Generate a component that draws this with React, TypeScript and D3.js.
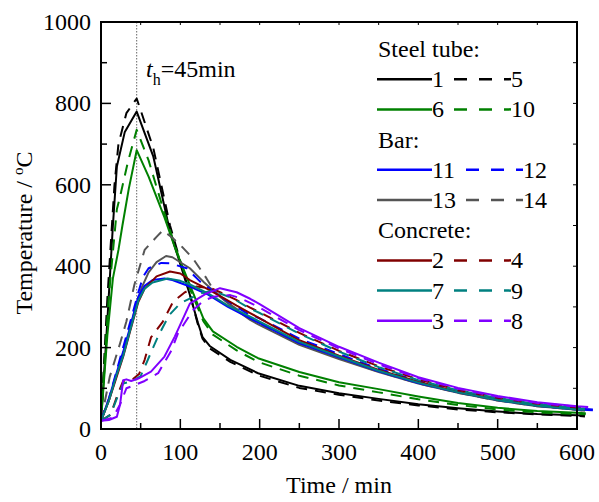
import React from "react";
import * as d3 from "d3";

type Pt = [number, number];

// ---- data: [time (min), temperature (°C)] ----
const s1: Pt[] = [[0,20],[6,200],[15,500],[20,645],[30,730],[45,780],[66,669],[87,485],[100,405],[112,330],[122,262],[128,226],[137,204],[163,170],[198,137],[250,106],[300,88],[350,74],[400,61],[450,51],[500,43],[550,37],[600,34],[610,33]];
const s5: Pt[] = [[0,20],[8,320],[17,600],[22,700],[32,776],[45,812],[66,690],[87,500],[100,412],[112,332],[122,258],[128,222],[137,198],[163,165],[198,132],[250,101],[300,84],[350,70],[400,58],[450,48],[500,41],[550,36],[600,32],[610,31]];
const s6: Pt[] = [[0,20],[8,230],[15,370],[22,440],[27,500],[35,590],[45,685],[60,620],[80,520],[95,436],[112,354],[129,272],[141,240],[171,202],[198,174],[250,140],[300,115],[350,98],[400,80],[450,64],[500,52],[550,44],[600,40],[611,39]];
const s10: Pt[] = [[0,20],[5,180],[10,330],[20,540],[24,571],[34,657],[45,735],[60,660],[80,530],[95,440],[112,345],[129,265],[141,232],[171,193],[198,165],[250,131],[300,107],[350,90],[400,73],[450,59],[500,48],[550,41],[600,37],[611,36]];
const s11: Pt[] = [[0,20],[10,75],[20,140],[28,190],[36,245],[47,325],[55,352],[65,366],[80,370],[90,366],[112,350],[135,330],[160,300],[188,272],[200,260],[250,211],[300,176],[350,142],[400,113],[450,90],[500,71],[550,57],[600,48],[620,46]];
const s12: Pt[] = [[0,20],[10,75],[20,145],[30,215],[40,285],[47,335],[53,374],[60,395],[76,408],[87,407],[108,395],[125,362],[154,321],[184,284],[200,272],[250,222],[300,184],[350,148],[400,118],[450,93],[500,74],[550,60],[600,51],[620,48]];
const s13: Pt[] = [[0,20],[10,70],[20,135],[28,185],[36,240],[42,288],[51,346],[60,385],[70,410],[82,425],[90,422],[112,395],[129,362],[150,325],[170,293],[188,268],[200,255],[250,207],[300,172],[350,140],[400,112],[450,89],[500,70],[550,56],[600,47],[610,45]];
const s14: Pt[] = [[0,20],[11,128],[24,210],[32,264],[42,354],[55,440],[70,472],[78,488],[90,470],[100,452],[116,419],[133,370],[142,341],[160,310],[188,272],[200,258],[250,209],[300,174],[350,141],[400,112],[450,89],[500,70],[550,56],[600,47],[610,45]];
const s2: Pt[] = [[0,20],[10,70],[20,130],[28,178],[36,235],[47,312],[55,345],[70,375],[87,387],[100,382],[112,366],[137,341],[171,303],[188,285],[200,272],[250,218],[300,180],[350,145],[400,116],[450,91],[500,72],[550,58],[600,49],[610,48]];
const s4: Pt[] = [[0,20],[12,35],[21,85],[28,118],[40,122],[48,135],[55,170],[63,225],[78,264],[91,313],[105,335],[120,350],[140,345],[170,318],[188,298],[200,287],[250,236],[300,192],[350,154],[400,122],[450,96],[500,77],[550,62],[600,52],[610,51]];
const s7: Pt[] = [[0,20],[10,70],[20,135],[28,180],[36,238],[47,315],[55,345],[65,360],[84,370],[100,364],[112,355],[135,333],[160,303],[188,276],[200,264],[250,214],[300,178],[350,143],[400,114],[450,90],[500,71],[550,57],[600,48],[610,47]];
const s9: Pt[] = [[0,20],[12,35],[21,80],[28,112],[40,118],[50,130],[57,161],[72,228],[86,280],[100,309],[125,333],[140,340],[165,322],[188,296],[200,285],[250,234],[300,190],[350,152],[400,120],[450,95],[500,76],[550,61],[600,51],[610,50]];
const s3: Pt[] = [[0,20],[10,22],[20,30],[24,60],[28,120],[32,122],[38,118],[47,124],[63,141],[80,178],[93,227],[112,308],[133,333],[150,346],[171,336],[188,320],[200,307],[250,248],[300,202],[350,163],[400,127],[450,101],[500,81],[550,66],[600,56],[614,54]];
const s8: Pt[] = [[0,20],[15,28],[24,60],[32,100],[40,106],[55,118],[72,137],[89,194],[97,235],[116,292],[129,315],[142,325],[163,329],[175,322],[188,310],[200,298],[250,243],[300,198],[350,159],[400,125],[450,99],[500,79],[550,64],[600,55],[614,53]];

const xTicks = [0, 100, 200, 300, 400, 500, 600];
const yTicks = [0, 200, 400, 600, 800, 1000];

const seriesList = [
  { id: "1", data: s1, color: "#000000", dashed: false },
  { id: "5", data: s5, color: "#000000", dashed: true },
  { id: "6", data: s6, color: "#008000", dashed: false },
  { id: "10", data: s10, color: "#008000", dashed: true },
  { id: "13", data: s13, color: "#555555", dashed: false },
  { id: "14", data: s14, color: "#555555", dashed: true },
  { id: "11", data: s11, color: "#0000ff", dashed: false },
  { id: "12", data: s12, color: "#0000ff", dashed: true },
  { id: "2", data: s2, color: "#800000", dashed: false },
  { id: "4", data: s4, color: "#800000", dashed: true },
  { id: "7", data: s7, color: "#008080", dashed: false },
  { id: "9", data: s9, color: "#008080", dashed: true },
  { id: "3", data: s3, color: "#8000ff", dashed: false },
  { id: "8", data: s8, color: "#8000ff", dashed: true },
];

const legendRows: (string | [string, string, string])[] = [
  "Steel tube:",
  ["1", "5", "#000000"],
  ["6", "10", "#008000"],
  "Bar:",
  ["11", "12", "#0000ff"],
  ["13", "14", "#555555"],
  "Concrete:",
  ["2", "4", "#800000"],
  ["7", "9", "#008080"],
  ["3", "8", "#8000ff"],
];

const W = 599, H = 502;
const L = 101, R = 577, T = 22, B = 429;
const FONT = "Liberation Serif, DejaVu Serif, Times New Roman, serif";

export default function App() {
  const x = d3.scaleLinear().domain([0, 600]).range([L, R]);
  const y = d3.scaleLinear().domain([0, 1000]).range([B, T]);
  const line = d3.line<Pt>().x(d => x(d[0])).y(d => y(d[1])).curve(d3.curveLinear);

  const xMinor = d3.range(0, 601, 50);
  const yMinor = d3.range(0, 1001, 100);
  const th = x(45);

  const lgX = 377, lgY0 = 49, lgStep = 30.2;
  const txt = { fontFamily: FONT, fontSize: "24px" } as React.CSSProperties;

  return (
    <svg width={W} height={H} style={{ position: "absolute", left: 0, top: 0, background: "#fff", fontFamily: FONT }}>
      <rect x={0} y={0} width={W} height={H} fill="#fff" />
      <line x1={th} x2={th} y1={T} y2={B} stroke="#666" strokeWidth={1} strokeDasharray="1.5,1.5" />
      {seriesList.map(s => (
        <path key={s.id} d={line(s.data) || ""} fill="none" stroke={s.color}
          strokeWidth={2} strokeDasharray={s.dashed ? "11,8" : undefined} strokeLinejoin="round" />
      ))}
      <rect x={L} y={T} width={R - L} height={B - T} fill="none" stroke="#000" strokeWidth={2} />
      {xMinor.map(v => {
        const major = v % 100 === 0;
        return <g key={"xb" + v}>
          <line x1={x(v)} x2={x(v)} y1={B} y2={B - (major ? 10 : 6)} stroke="#000" strokeWidth={1.5} />
          <line x1={x(v)} x2={x(v)} y1={T} y2={T + 3} stroke="#000" strokeWidth={1} />
        </g>;
      })}
      {yMinor.map(v => {
        const major = v % 200 === 0;
        return <g key={"yl" + v}>
          <line x1={L} x2={L + (major ? 10 : 6)} y1={y(v)} y2={y(v)} stroke="#000" strokeWidth={1.5} />
          <line x1={R} x2={R - 4} y1={y(v)} y2={y(v)} stroke="#000" strokeWidth={1} />
        </g>;
      })}
      {xTicks.map(v => (
        <text key={"xt" + v} x={x(v)} y={460} style={txt} textAnchor="middle" fill="#000">{v}</text>
      ))}
      {yTicks.map(v => (
        <text key={"yt" + v} x={91} y={y(v) + 8} style={txt} textAnchor="end" fill="#000">{v}</text>
      ))}
      <text x={339} y={493} style={txt} textAnchor="middle" fill="#000">Time / min</text>
      <text transform={`translate(32,233) rotate(-90)`} style={txt} textAnchor="middle" fill="#000">
        Temperature / <tspan style={{ fontSize: "15px" }} dy={-9}>o</tspan><tspan dy={9}>C</tspan>
      </text>
      <text x={146} y={77} style={txt} fill="#000">
        <tspan style={{ fontStyle: "italic" }}>t</tspan><tspan style={{ fontSize: "16px" }} dy={8}>h</tspan><tspan dy={-8}>=45min</tspan>
      </text>
      {legendRows.map((row, i) => {
        const cy = lgY0 + i * lgStep;
        if (typeof row === "string") {
          return <text key={"lg" + i} x={lgX + 1} y={cy + 8} style={txt} fill="#000">{row}</text>;
        }
        const [a, b, c] = row;
        const wa = a.length * 12;
        const dStart = lgX + 55 + wa;
        const dEnd = dStart + 67;
        return <g key={"lg" + i}>
          <line x1={lgX} x2={lgX + 55} y1={cy} y2={cy} stroke={c} strokeWidth={2.5} />
          <text x={lgX + 55} y={cy + 8} style={txt} fill="#000">{a}</text>
          <line x1={dStart} x2={dEnd} y1={cy} y2={cy} stroke={c} strokeWidth={2.5} strokeDasharray="13,12" strokeDashoffset={15} />
          <text x={dEnd} y={cy + 8} style={txt} fill="#000">{b}</text>
        </g>;
      })}
    </svg>
  );
}
